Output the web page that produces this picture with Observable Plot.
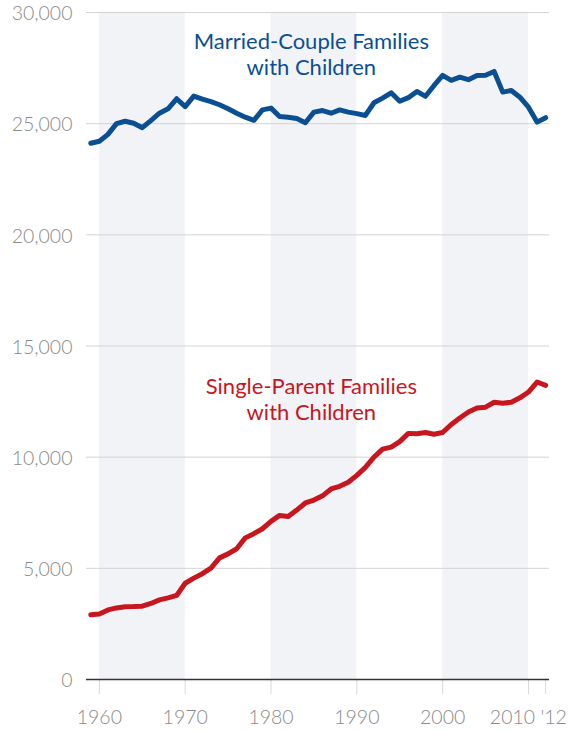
<!DOCTYPE html>
<html>
<head>
<meta charset="utf-8">
<script src="https://cdn.jsdelivr.net/npm/d3@7"></script>
<script src="https://cdn.jsdelivr.net/npm/@observablehq/plot@0.6"></script>
<style>
  html, body { margin: 0; padding: 0; background: #fff; }
  #chart svg { display: block; }
</style>
</head>
<body>
<div id="chart"></div>
<script>
const years = d3.range(1959, 2013);
const married = [
  24120, 24210, 24520, 25000, 25110, 25020, 24820, 25140, 25470, 25670,
  26120, 25770, 26240, 26100, 25990, 25850, 25670, 25470, 25290, 25150,
  25620, 25700, 25320, 25290, 25230, 25040, 25520, 25590, 25470, 25620,
  25520, 25450, 25370, 25940, 26150, 26390, 26010, 26170, 26450, 26230,
  26720, 27170, 26950, 27090, 26980, 27170, 27180, 27350, 26420, 26490,
  26190, 25740, 25070, 25270
];
const single = [
  2910, 2950, 3130, 3220, 3270, 3280, 3300, 3420, 3580, 3670,
  3780, 4330, 4560, 4760, 5010, 5470, 5650, 5880, 6370, 6560,
  6780, 7110, 7380, 7330, 7620, 7940, 8070, 8260, 8570, 8690,
  8870, 9180, 9540, 10000, 10360, 10450, 10700, 11070, 11050, 11110,
  11030, 11110, 11470, 11760, 12030, 12210, 12250, 12470, 12430, 12470,
  12670, 12930, 13380, 13230
];
const bands = [[1960, 1970], [1980, 1990], [2000, 2010]];
const yTicks = [0, 5000, 10000, 15000, 20000, 25000, 30000];
const xTicks = [1960, 1970, 1980, 1990, 2000, 2010, 2012];
const xTickLabels = ["1960", "1970", "1980", "1990", "2000", "2010", "'12"];
const labels = [
  {name: "Married-Couple Families\nwith Children", year: 1984.7, value: 29170, color: "#0b4f93"},
  {name: "Single-Parent Families\nwith Children", year: 1984.7, value: 13650, color: "#c8161e"}
];

const marriedData = years.map((y, i) => ({year: y, value: married[i]}));
const singleData = years.map((y, i) => ({year: y, value: single[i]}));
const bandData = bands.map(([a, b]) => ({x1: a, x2: b}));
const fmtX = d => xTickLabels[xTicks.indexOf(d)];

const tickFont = {fontSize: 19.5, fontWeight: 300, fill: "#8a8a8a"};

const chart = Plot.plot({
  width: 572,
  height: 730,
  marginTop: 12,
  marginBottom: 51,
  marginLeft: 86,
  marginRight: 23,
  style: {fontFamily: "Lato, 'Open Sans', sans-serif", background: "#fff"},
  x: {domain: [1958.5, 2012.45]},
  y: {domain: [0, 30000]},
  marks: [
    Plot.rectY(bandData, {x1: "x1", x2: "x2", y1: 0, y2: 30000, fill: "#f2f3f6"}),
    Plot.ruleY(yTicks.filter(d => d > 0), {stroke: "#d4d4d4", strokeWidth: 1}),
    Plot.axisY({
      ticks: yTicks, tickSize: 0, tickPadding: 14, dy: 1.5,
      tickFormat: d => d3.format(",")(d),
      ...tickFont, label: null
    }),
    // tick lines
    Plot.axisX({ticks: xTicks, tickSize: 15, stroke: "#d8d8d8", tickFormat: () => "", label: null}),
    // tick labels (2010 and '12 nudged apart as in the original)
    Plot.axisX({ticks: xTicks.slice(0, 5), tickSize: 0, tickPadding: 31, tickFormat: fmtX, ...tickFont, label: null}),
    Plot.axisX({ticks: [2010], tickSize: 0, tickPadding: 31, dx: -16, tickFormat: fmtX, ...tickFont, label: null}),
    Plot.axisX({ticks: [2012], tickSize: 0, tickPadding: 31, dx: 8, tickFormat: fmtX, ...tickFont, label: null}),
    Plot.ruleY([0], {stroke: "#333", strokeWidth: 1.6}),
    Plot.line(marriedData, {x: "year", y: "value", stroke: "#0b4f93", strokeWidth: 5, strokeLinejoin: "round", strokeLinecap: "round"}),
    Plot.line(singleData, {x: "year", y: "value", stroke: "#c8161e", strokeWidth: 5, strokeLinejoin: "round", strokeLinecap: "round"}),
    Plot.text(labels, {
      x: "year", y: "value", text: "name", fill: d => d.color,
      fontSize: 22, lineHeight: 1.18, lineAnchor: "top", textAnchor: "middle"
    })
  ]
});
document.getElementById("chart").appendChild(chart);
</script>
</body>
</html>
